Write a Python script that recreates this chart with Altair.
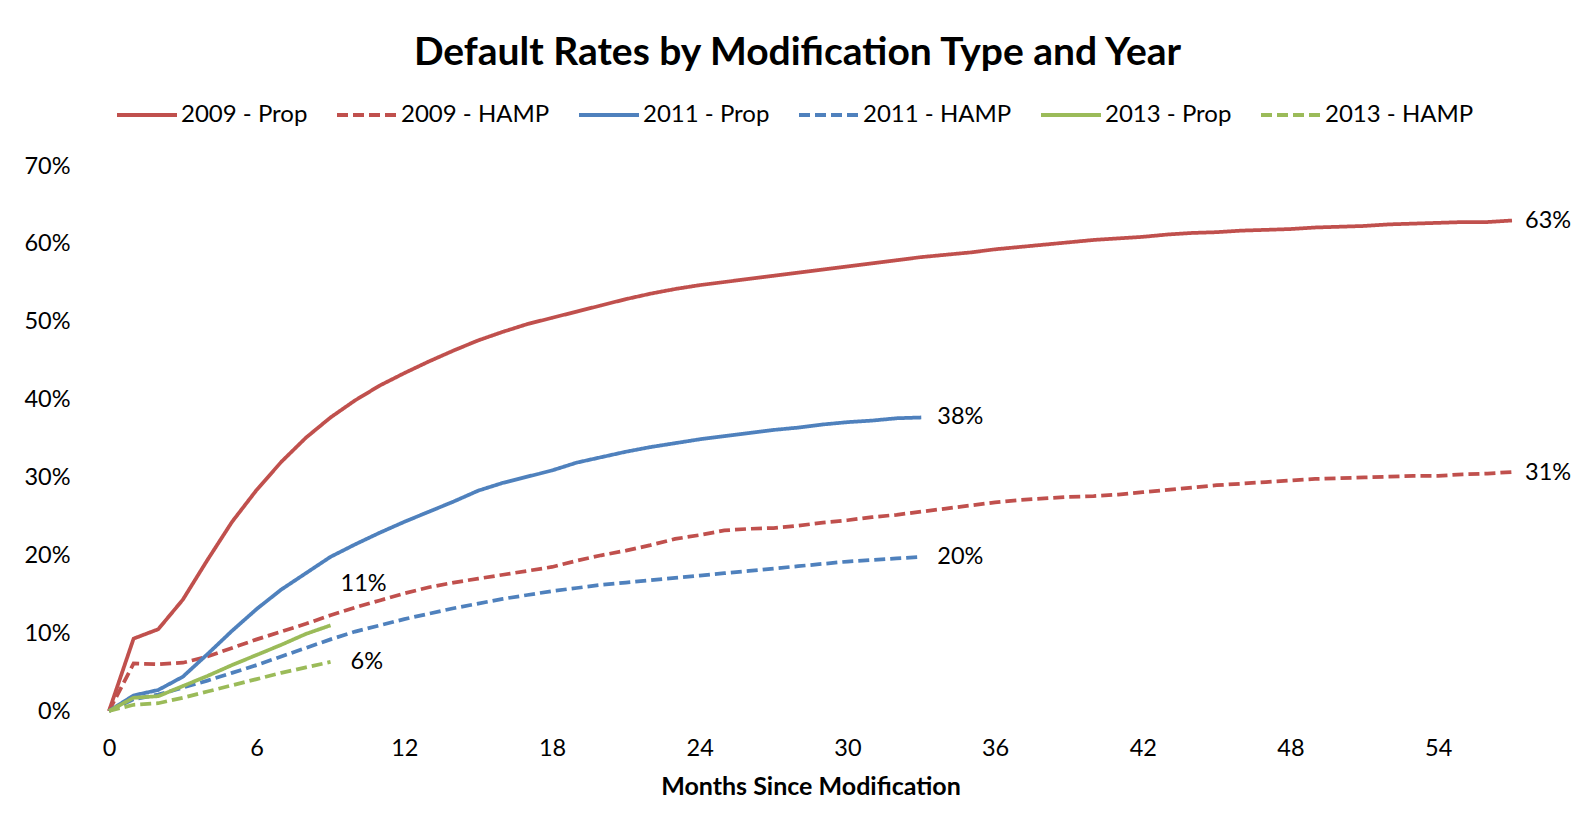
import altair as alt
import pandas as pd

series_names = ["2009 - Prop", "2009 - HAMP", "2011 - Prop", "2011 - HAMP", "2013 - Prop", "2013 - HAMP"]
series_colors = ["#C0504D", "#C0504D", "#4F81BD", "#4F81BD", "#9BBB59", "#9BBB59"]
series_dashes = [[1, 0], [11, 5], [1, 0], [11, 5], [1, 0], [11, 5]]

# values in percent, index = months since modification
prop_2009 = [0, 9.3, 10.5, 14.3, 19.4, 24.3, 28.4, 32.0, 35.1, 37.7, 39.9, 41.8, 43.4, 44.9, 46.3,
             47.6, 48.7, 49.7, 50.5, 51.3, 52.1, 52.9, 53.6, 54.2, 54.7, 55.1, 55.5, 55.9, 56.3,
             56.7, 57.1, 57.5, 57.9, 58.3, 58.6, 58.9, 59.3, 59.6, 59.9, 60.2, 60.5, 60.7, 60.9,
             61.2, 61.4, 61.5, 61.7, 61.8, 61.9, 62.1, 62.2, 62.3, 62.5, 62.6, 62.7, 62.8, 62.8, 63.0]
hamp_2009 = [0, 6.1, 6.0, 6.2, 7.0, 8.1, 9.2, 10.2, 11.2, 12.3, 13.3, 14.2, 15.1, 15.9, 16.5,
             17.0, 17.5, 18.0, 18.5, 19.3, 20.0, 20.6, 21.3, 22.1, 22.6, 23.2, 23.4, 23.5, 23.8,
             24.2, 24.5, 24.9, 25.2, 25.6, 26.0, 26.4, 26.8, 27.1, 27.3, 27.5, 27.6, 27.8, 28.1,
             28.4, 28.7, 29.0, 29.2, 29.4, 29.6, 29.8, 29.9, 30.0, 30.1, 30.2, 30.2, 30.4, 30.5, 30.7]
prop_2011 = [0, 2.0, 2.7, 4.4, 7.3, 10.3, 13.1, 15.6, 17.7, 19.8, 21.4, 22.9, 24.3, 25.6, 26.9,
             28.3, 29.3, 30.1, 30.9, 31.9, 32.6, 33.3, 33.9, 34.4, 34.9, 35.3, 35.7, 36.1, 36.4,
             36.8, 37.1, 37.3, 37.6, 37.7]
hamp_2011 = [0, 1.5, 2.1, 3.0, 3.9, 4.9, 5.9, 7.0, 8.1, 9.2, 10.2, 11.0, 11.8, 12.5, 13.2,
             13.8, 14.4, 14.9, 15.4, 15.8, 16.2, 16.5, 16.8, 17.1, 17.4, 17.7, 18.0, 18.3, 18.6,
             18.9, 19.2, 19.4, 19.6, 19.8]
prop_2013 = [0, 1.7, 1.9, 3.2, 4.5, 5.9, 7.2, 8.5, 9.9, 11.0]
hamp_2013 = [0, 0.8, 1.0, 1.7, 2.5, 3.3, 4.1, 4.9, 5.6, 6.3]

all_series = [prop_2009, hamp_2009, prop_2011, hamp_2011, prop_2013, hamp_2013]

end_labels = ["63%", "31%", "38%", "20%", "11%", "6%"]
label_offsets = [(13, 0), (13, 1), (16, 0), (16, 0), (10, -41), (20, 0)]

x_ticks = list(range(0, 55, 6))
y_ticks = [0, 0.1, 0.2, 0.3, 0.4, 0.5, 0.6, 0.7]

rows = []
for name, vals in zip(series_names, all_series):
    for m, v in enumerate(vals):
        rows.append({"series": name, "month": m, "value": v / 100.0})
df = pd.DataFrame(rows)

label_rows = []
for name, vals, txt in zip(series_names, all_series, end_labels):
    label_rows.append({"series": name, "month": len(vals) - 1, "value": vals[-1] / 100.0, "label": txt})
ldf = pd.DataFrame(label_rows)

FONT = "Lato"

legend_def = alt.Legend(
    title=None, orient="none", legendX=6, legendY=-83, direction="horizontal", columns=6,
    columnPadding=21, symbolType="stroke", symbolSize=3600, symbolStrokeWidth=4,
    labelFontSize=24, labelFont=FONT, labelColor="black", labelOffset=2, labelLimit=300,
)

x_enc = alt.X("month:Q", scale=alt.Scale(domain=[0, 57], nice=False, zero=True),
              axis=alt.Axis(values=x_ticks, title="Months Since Modification", grid=False,
                            domain=False, ticks=False, tickSize=0, labelPadding=25, titlePadding=15,
                            labelFlush=False, labelFontSize=23.5, labelFont=FONT, labelColor="black",
                            titleFontSize=25, titleFont=FONT, titleFontWeight="bold",
                            titleColor="black"))
y_enc = alt.Y("value:Q", scale=alt.Scale(domain=[0, 0.7], nice=False),
              axis=alt.Axis(values=y_ticks, format=".0%", title=None, grid=False, domain=False,
                            ticks=False, tickSize=0, labelPadding=39, labelFontSize=23.5,
                            labelFlush=False, labelFont=FONT, labelColor="black"))

lines = alt.Chart(df).mark_line(strokeWidth=3.75).encode(
    x=x_enc,
    y=y_enc,
    color=alt.Color("series:N", scale=alt.Scale(domain=series_names, range=series_colors),
                    sort=series_names, legend=legend_def),
    strokeDash=alt.StrokeDash("series:N", scale=alt.Scale(domain=series_names, range=series_dashes),
                              sort=series_names, legend=legend_def),
)

layers = [lines]
for name, (dx, dy) in zip(series_names, label_offsets):
    layers.append(
        alt.Chart(ldf).transform_filter(alt.datum.series == name).mark_text(
            align="left", baseline="middle", dx=dx, dy=dy, fontSize=23.5, font=FONT, color="black"
        ).encode(x="month:Q", y="value:Q", text="label:N")
    )

chart = alt.layer(*layers).properties(
    width=1403, height=545,
    padding={"left": 101, "top": 158, "right": 60, "bottom": 95},
    autosize="none",
    title=alt.TitleParams("Default Rates by Modification Type and Year", font=FONT, fontSize=39,
                          fontWeight="bold", anchor="middle", frame="group", dx=-13, offset=10,
                          color="black"),
).configure_view(stroke=None, strokeWidth=0)

chart.save("out.html", embed_options={"renderer": "svg", "actions": False})
